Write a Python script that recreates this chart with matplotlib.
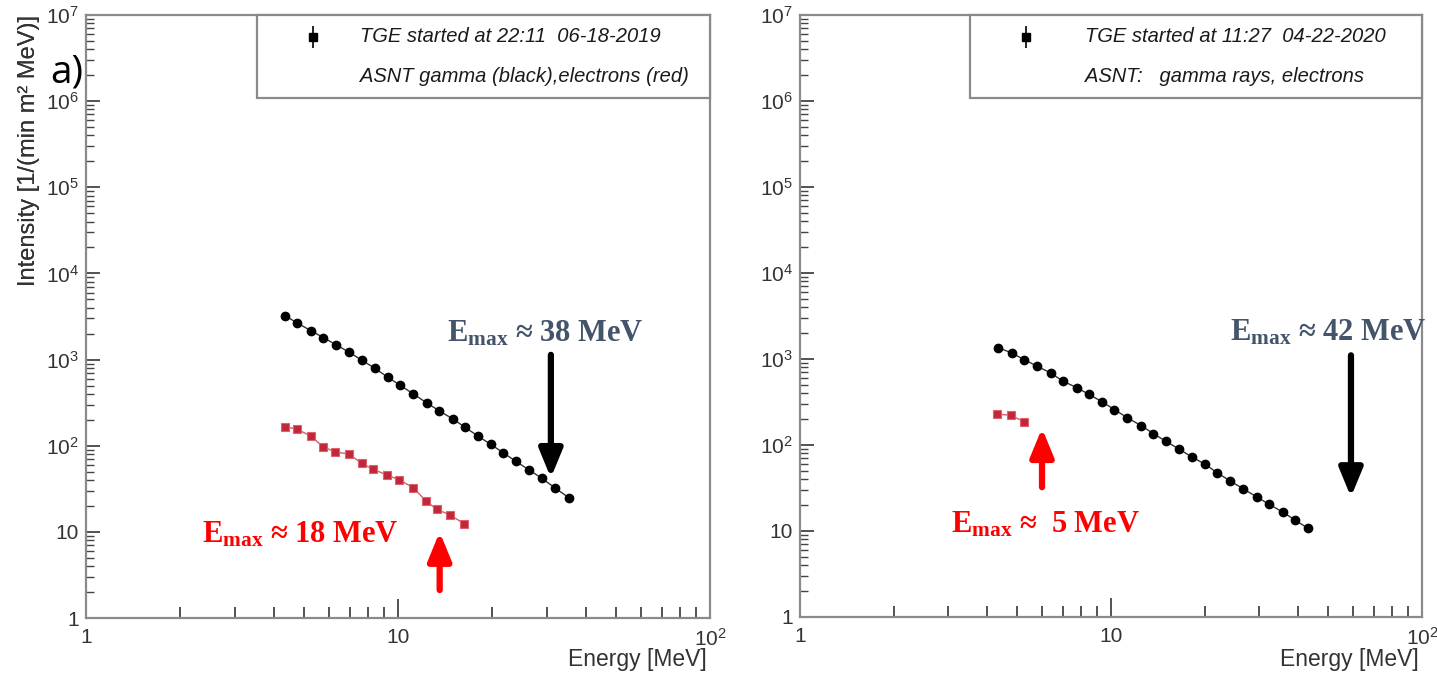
import matplotlib
matplotlib.use("Agg")
import matplotlib.pyplot as plt
from matplotlib.patches import Rectangle
from matplotlib.ticker import FixedLocator, LogLocator, NullFormatter

plt.rcParams['font.family'] = ['Liberation Sans', 'DejaVu Sans']
plt.rcParams['mathtext.fontset'] = 'custom'
plt.rcParams['mathtext.rm'] = 'Liberation Serif:bold'
plt.rcParams['mathtext.bf'] = 'Liberation Serif:bold'
plt.rcParams['mathtext.sf'] = 'Liberation Sans'

# ---------------- data ----------------
# Panel a: 06-18-2019
gamma1_E = [4.34, 4.76, 5.25, 5.76, 6.34, 6.97, 7.65, 8.42, 9.27, 10.15, 11.19, 12.36,
            13.56, 14.97, 16.39, 18.01, 19.80, 21.78, 23.88, 26.30, 28.93, 31.86, 35.33]
gamma1_I = [3243, 2648, 2173, 1800, 1482, 1219, 984, 795, 624, 504, 400, 314,
            254, 205, 164, 130, 104, 82.5, 65.7, 52.4, 41.7, 32.4, 24.8]
elec1_E = [4.34, 4.74, 5.25, 5.74, 6.27, 6.94, 7.65, 8.31, 9.21, 10.1, 11.19, 12.27,
           13.29, 14.7, 16.3]
elec1_I = [166.7, 155.5, 130, 97.8, 84.8, 80.3, 62.6, 53.3, 45.8, 40.1, 32.6, 23.0,
           18.3, 15.7, 12.4]

# Panel b: 04-22-2020
gamma2_E = [4.34, 4.79, 5.26, 5.79, 6.40, 6.99, 7.76, 8.48, 9.34, 10.25, 11.28, 12.49,
            13.68, 15.03, 16.51, 18.17, 20.06, 21.97, 24.13, 26.64, 29.41, 32.28,
            35.66, 39.05, 43.09]
gamma2_I = [1356, 1175, 984, 823, 688, 555, 465, 389, 320, 258, 208, 168, 136, 110,
            90.1, 72.8, 59.8, 47.4, 38.3, 30.9, 24.9, 20.4, 16.6, 13.4, 10.7]
elec2_E = [4.31, 4.77, 5.26]
elec2_I = [228, 222, 185]

legend_titles = ["TGE started at 22:11  06-18-2019", "TGE started at 11:27  04-22-2020"]
legend_sub = ["ASNT gamma (black),electrons (red)", "ASNT:   gamma rays, electrons"]

gamma_emax_txt = [" ≈ 38 MeV", " ≈ 42 MeV"]
elec_emax_txt = [" ≈ 18 MeV", " ≈  5 MeV"]
# annotation anchors (energy, intensity)
gamma_arrow = [(30.9, 1135, 42.3), (59.1, 1104, 24.8)]
elec_arrow = [(13.6, 2.11, 9.97), (6.0, 32.3, 157)]
gamma_text_pos = [(29.6, 2000), (49.9, 2000)]
elec_text_pos = [(4.85, 9.3), (6.18, 11.9)]

x_ticks = [1, 10, 100]
x_ticklabels = ["1", "10", r"$\mathsf{10^{2}}$"]
y_ticks = [1, 10, 1e2, 1e3, 1e4, 1e5, 1e6, 1e7]
y_ticklabels = ["1", "10"] + [r"$\mathsf{10^{%d}}$" % k for k in range(2, 8)]

# ---------------- figure ----------------
W, H = 1437, 675
fig = plt.figure(figsize=(W / 100, H / 100), dpi=100)
axes_px = [(86, 710, 15, 618), (800, 1422, 15, 617)]

datasets = [(gamma1_E, gamma1_I, elec1_E, elec1_I), (gamma2_E, gamma2_I, elec2_E, elec2_I)]
spine_col = '#8a8a8a'
slate = '#44546a'

for i, (x0, x1, y0, y1) in enumerate(axes_px):
    ax = fig.add_axes([x0 / W, 1 - y1 / H, (x1 - x0) / W, (y1 - y0) / H])
    gE, gI, eE, eI = datasets[i]
    ax.set_xscale('log')
    ax.set_yscale('log')
    ax.set_xlim(1, 100)
    ax.set_ylim(1, 1e7)

    ax.plot(gE, gI, '-', color='#333333', lw=1.0, zorder=3)
    ax.plot(gE, gI, 'o', color='black', ms=6.0, mec='black', zorder=4)
    ax.plot(eE, eI, '-', color='#d06070', lw=1.0, zorder=3)
    ax.plot(eE, eI, 's', color='#c0283a', ms=6.0, mec='#e06070', mew=0.8, zorder=4)

    for s in ax.spines.values():
        s.set_color(spine_col)
        s.set_linewidth(1.6)

    ax.xaxis.set_major_locator(FixedLocator(x_ticks))
    ax.set_xticklabels(x_ticklabels)
    ax.xaxis.set_minor_locator(LogLocator(base=10, subs=range(2, 10), numticks=20))
    ax.xaxis.set_minor_formatter(NullFormatter())
    ax.yaxis.set_major_locator(FixedLocator(y_ticks))
    ax.set_yticklabels(y_ticklabels)
    ax.yaxis.set_minor_locator(LogLocator(base=10, subs=range(2, 10), numticks=20))
    ax.yaxis.set_minor_formatter(NullFormatter())

    ax.tick_params(axis='both', which='both', direction='in', colors='#444444',
                   labelcolor='#333333', labelsize=15)
    ax.tick_params(axis='x', which='major', length=14, width=1.3, pad=7)
    ax.tick_params(axis='x', which='minor', length=8, width=1.3)
    ax.tick_params(axis='y', which='major', length=10, width=1.3, pad=5)
    ax.tick_params(axis='y', which='minor', length=6, width=1.0)

    ax.set_ylabel("Intensity [1/(min m² MeV)]", fontsize=17, color='#333333', loc='top')
    ax.yaxis.set_label_coords((40 - x0) / (x1 - x0), 1.0)
    ax.set_xlabel("Energy [MeV]", fontsize=16.5, color='#333333', loc='right')
    ax.xaxis.set_label_coords(0.995, -(648 - y1) / (y1 - y0))

    # legend box
    bx = (257 - x0) / (x1 - x0) if i == 0 else (970 - x0) / (x1 - x0)
    by = (y1 - 98) / (y1 - y0)
    ax.add_patch(Rectangle((bx, by), 1 - bx, 1 - by, transform=ax.transAxes,
                           fill=True, facecolor='white', edgecolor=spine_col, lw=1.6,
                           zorder=5, clip_on=False))
    mx = (313 - x0) / (x1 - x0) if i == 0 else (1026 - x0) / (x1 - x0)
    my = (y1 - 37) / (y1 - y0)
    ax.errorbar([mx], [my], yerr=[[0.018], [0.018]], fmt='s', color='black', ms=5.5,
                elinewidth=1.2, capsize=0, transform=ax.transAxes, zorder=6, clip_on=False)
    tx = (360 - x0) / (x1 - x0) if i == 0 else (1085 - x0) / (x1 - x0)
    ax.text(tx, my, legend_titles[i], transform=ax.transAxes, fontsize=14.5,
            style='italic', color='#1a1a1a', va='center', ha='left', zorder=6)
    ax.text(tx, (y1 - 77) / (y1 - y0), legend_sub[i], transform=ax.transAxes,
            fontsize=14.5, style='italic', color='#1a1a1a', va='center', ha='left', zorder=6)

    # E_max annotations
    gx, gy_from, gy_to = gamma_arrow[i]
    ax.annotate("", xy=(gx, gy_to), xytext=(gx, gy_from),
                arrowprops=dict(arrowstyle='-|>,head_length=1.7,head_width=0.7',
                                color='black', lw=4.5, shrinkA=0, shrinkB=0), zorder=7)
    ex, ey_from, ey_to = elec_arrow[i]
    ax.annotate("", xy=(ex, ey_to), xytext=(ex, ey_from),
                arrowprops=dict(arrowstyle='-|>,head_length=1.7,head_width=0.7',
                                color='red', lw=4.5, shrinkA=0, shrinkB=0), zorder=7)
    tx_g, ty_g = gamma_text_pos[i]
    ax.text(tx_g, ty_g, r"$\mathrm{E_{max}}$" + gamma_emax_txt[i],
            fontsize=22, family='Liberation Serif', weight='bold', color=slate,
            ha='center', va='center', zorder=7)
    tx_e, ty_e = elec_text_pos[i]
    ax.text(tx_e, ty_e, r"$\mathrm{E_{max}}$" + elec_emax_txt[i],
            fontsize=22, family='Liberation Serif', weight='bold', color='red',
            ha='center', va='center', zorder=7)

fig.text(50 / W, 1 - 73 / H, "a)", fontsize=28, family='Open Sans', color='black',
         ha='left', va='center', zorder=10)

fig.savefig("out.png", dpi=100)
